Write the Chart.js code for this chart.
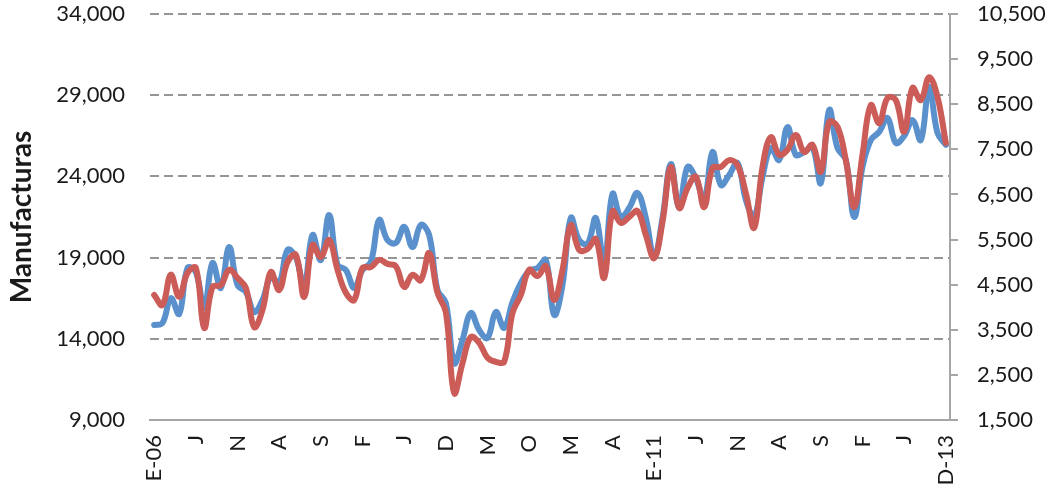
<!DOCTYPE html>
<html>
<head>
<meta charset="utf-8">
<script src="https://cdn.jsdelivr.net/npm/chart.js@4.4.1/dist/chart.umd.min.js"></script>
<style>
  html, body { margin: 0; padding: 0; background: #fff; }
  #wrap { width: 1052px; height: 488px; position: relative; }
</style>
</head>
<body>
<div id="wrap"><canvas id="chart"></canvas></div>
<script>
// month initials (Spanish), Jan 2006 .. Dec 2013
const monthInitials = ['E', 'F', 'M', 'A', 'M', 'J', 'J', 'A', 'S', 'O', 'N', 'D'];
const years = ['06', '07', '08', '09', '10', '11', '12', '13'];

// left axis series (blue)
const manufacturas = [
    14850, 14970, 16510, 15530, 18360, 18110, 15900, 18670, 17130, 19650, 17310, 16880,
    15650, 16390, 17810, 17440, 19470, 19040, 17190, 20390, 18850, 21620, 18550, 18240,
    17130, 18240, 18730, 21320, 20080, 19900, 20890, 19650, 21010, 20390, 17010, 16210,
    12510, 13930, 15590, 14540, 14050, 15650, 14670, 16270, 17440, 18180, 18360, 18850,
    15470, 17310, 21440, 20080, 19840, 21440, 18550, 22920, 21500, 22060, 22980, 21440,
    19040, 21440, 24760, 22060, 24580, 23900, 22550, 25500, 23470, 24090, 24830, 22550,
    21500, 23960, 25750, 25010, 27040, 25320, 25500, 25810, 23590, 28090, 25750, 25010,
    21500, 24580, 26240, 26740, 27600, 26060, 26490, 27470, 26240, 29510, 26670, 25940
];

// right axis series (red)
const serieDerecha = [
    4270, 4050, 4720, 4230, 4760, 4870, 3540, 4450, 4490, 4830, 4650, 4430,
    3560, 3940, 4780, 4380, 5000, 5160, 4230, 5380, 5110, 5490, 4830, 4320,
    4160, 4870, 4890, 5050, 4960, 4910, 4450, 4720, 4600, 5200, 4320, 3890,
    2100, 2760, 3340, 3210, 2880, 2790, 2790, 3870, 4270, 4830, 4690, 4910,
    4160, 4830, 5820, 5270, 5290, 5510, 4650, 6130, 5870, 6000, 6130, 5600,
    5090, 5890, 7110, 6200, 6640, 6890, 6220, 7090, 7110, 7260, 7150, 6530,
    5760, 7110, 7770, 7380, 7490, 7820, 7440, 7600, 7000, 8110, 8000, 7260,
    6220, 7380, 8480, 8080, 8640, 8590, 7890, 8860, 8590, 9100, 8660, 7640
];

const categories = [];
years.forEach((yy, yi) => {
    monthInitials.forEach((m, mi) => {
        if (mi === 0) categories.push('E-' + yy);
        else if (yi === years.length - 1 && mi === 11) categories.push('D-' + yy);
        else categories.push(m);
    });
});

const labelEvery = 5;
const textColor = '#1a1a1a';
const axisGray = '#a6a6a6';
const tickFont = { family: 'Lato', size: 22 };

// fixed box sizes so the plot sits where the original one does
function fixBox(w, h) {
    return s => {
        if (w) s.width = w;
        if (h) s.height = h;
        s.paddingTop = 0;
        s.paddingBottom = 0;
        s.paddingLeft = 0;
        s.paddingRight = 0;
    };
}

new Chart(document.getElementById('chart').getContext('2d'), {
    type: 'line',
    data: {
        labels: categories,
        datasets: [
            {
                label: 'Manufacturas',
                data: manufacturas,
                yAxisID: 'y',
                borderColor: '#5a91cc',
                borderWidth: 6,
                pointRadius: 0,
                tension: 0.4,
                borderCapStyle: 'round',
                borderJoinStyle: 'round',
                order: 2
            },
            {
                label: 'Serie 2',
                data: serieDerecha,
                yAxisID: 'y1',
                borderColor: '#cb5c57',
                borderWidth: 6,
                pointRadius: 0,
                tension: 0.4,
                borderCapStyle: 'round',
                borderJoinStyle: 'round',
                order: 1
            }
        ]
    },
    options: {
        responsive: true,
        maintainAspectRatio: false,
        animation: false,
        layout: { padding: { top: 14, left: 0, right: 0, bottom: 0 } },
        plugins: {
            legend: { display: false },
            tooltip: { enabled: false }
        },
        scales: {
            x: {
                offset: true,
                grid: { display: false, drawTicks: false },
                border: { display: true, color: axisGray, width: 2 },
                ticks: {
                    autoSkip: false,
                    minRotation: 90,
                    maxRotation: 90,
                    padding: 15,
                    color: textColor,
                    font: tickFont,
                    callback: function (val, i) {
                        return i % labelEvery === 0 ? this.getLabelForValue(val) : null;
                    }
                },
                afterFit: fixBox(0, 68)
            },
            y: {
                position: 'left',
                min: 9000,
                max: 34000,
                ticks: {
                    stepSize: 5000,
                    padding: 25,
                    color: textColor,
                    font: tickFont
                },
                grid: { color: '#969696', lineWidth: 2, drawTicks: false },
                border: { display: false, dash: [9, 5] },
                title: {
                    display: true,
                    text: 'Manufacturas',
                    color: textColor,
                    font: { family: 'Lato', size: 28, weight: 'bold' },
                    padding: { top: 5, bottom: 0 }
                },
                afterFit: fixBox(150, 0)
            },
            y1: {
                position: 'right',
                min: 1500,
                max: 10500,
                ticks: {
                    stepSize: 1000,
                    padding: 19,
                    color: textColor,
                    font: tickFont
                },
                grid: { drawOnChartArea: false, color: axisGray, lineWidth: 2, tickLength: 8 },
                border: { display: true, color: axisGray, width: 2 },
                afterFit: fixBox(102, 0)
            }
        }
    }
});
</script>
</body>
</html>
